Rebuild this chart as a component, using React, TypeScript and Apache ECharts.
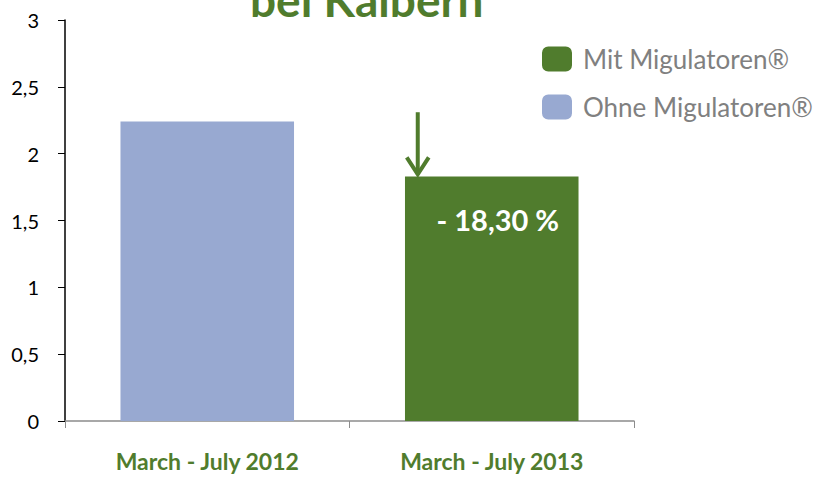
import React, { useEffect, useRef } from "react";
import * as echarts from "echarts";

const categories = ["March - July 2012", "March - July 2013"];
const seriesNames = ["Mit Migulatoren®", "Ohne Migulatoren®"];
const mitValues: (number | string)[] = ["-", 1.83];
const ohneValues: (number | string)[] = [2.24, "-"];
const changeLabel = "- 18,30 %";
const titleText = "bei Kälbern";

const GREEN = "#507c2d";
const BLUE = "#98a9d1";
const FONT = "Lato";

export default function App() {
  const ref = useRef<HTMLDivElement>(null);
  useEffect(() => {
    document.body.style.margin = "0";
    const chart = echarts.init(ref.current!, null, { renderer: "svg" });
    chart.setOption({
      animation: false,
      backgroundColor: "#ffffff",
      textStyle: { fontFamily: FONT },
      grid: { left: 65, right: 189, top: 20, bottom: 56, containLabel: false },
      legend: {
        orient: "vertical",
        left: 537,
        top: 41,
        itemWidth: 30,
        itemHeight: 25,
        itemGap: 22,
        icon: "roundRect",
        data: seriesNames,
        textStyle: {
          fontSize: 26,
          lineHeight: 25,
          color: "#808080",
          fontFamily: FONT,
          padding: [0, 0, 0, 6],
        },
      },
      xAxis: {
        type: "category",
        data: categories,
        axisLine: { lineStyle: { color: "#8c8c8c", width: 1.5 } },
        axisTick: { show: true, length: 7, lineStyle: { color: "#8c8c8c" } },
        axisLabel: { color: GREEN, fontWeight: "bold", fontSize: 23, margin: 28, fontFamily: FONT },
      },
      yAxis: {
        type: "value",
        min: 0,
        max: 3,
        interval: 0.5,
        splitLine: { show: false },
        axisLine: { show: true, lineStyle: { color: "#000", width: 1.5 } },
        axisTick: { show: true, length: 7, lineStyle: { color: "#000" } },
        axisLabel: {
          color: "#000",
          fontSize: 20,
          margin: 26,
          fontFamily: FONT,
          formatter: (v: number) => String(v).replace(".", ","),
        },
      },
      series: [
        {
          name: seriesNames[0],
          type: "bar",
          stack: "all",
          barWidth: "61%",
          data: mitValues,
          itemStyle: { color: GREEN },
          label: {
            show: true,
            position: "insideTop",
            distance: 29,
            offset: [6, 0],
            formatter: () => changeLabel,
            color: "#fff",
            fontWeight: "bold",
            fontSize: 29,
            fontFamily: FONT,
          },
        },
        {
          name: seriesNames[1],
          type: "bar",
          stack: "all",
          barWidth: "61%",
          data: ohneValues,
          itemStyle: { color: BLUE },
        },
      ],
    });

    const top = chart.convertToPixel({ gridIndex: 0 }, [1, 1.83]) as number[];
    const tipTop = chart.convertToPixel({ gridIndex: 0 }, [1, 2.31]) as number[];
    const ax = top[0] - 74;
    chart.setOption({
      graphic: [
        {
          type: "text",
          x: 250,
          y: -24,
          style: {
            text: titleText,
            fill: GREEN,
            font: `bold 46px ${FONT}`,
            align: "left",
            verticalAlign: "top",
          },
        },
        {
          type: "line",
          shape: { x1: ax, y1: tipTop[1], x2: ax, y2: top[1] - 2 },
          style: { stroke: GREEN, lineWidth: 4 },
        },
        {
          type: "polyline",
          shape: { points: [[ax - 11, top[1] - 19], [ax, top[1] - 2], [ax + 11, top[1] - 19]] },
          style: { stroke: GREEN, lineWidth: 4, fill: "none" },
        },
      ],
    });
    return () => chart.dispose();
  }, []);
  return <div ref={ref} style={{ width: 823, height: 477 }} />;
}
